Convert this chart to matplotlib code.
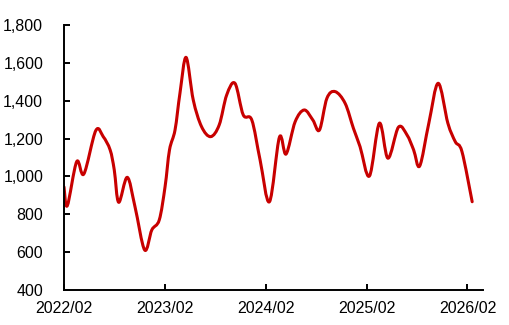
import numpy as np
import pandas as pd
import matplotlib
matplotlib.use("Agg")
import matplotlib.pyplot as plt
import matplotlib.dates as mdates
from matplotlib.path import Path
from matplotlib.patches import PathPatch

plt.rcParams['font.family'] = ['Liberation Sans', 'DejaVu Sans']

# values
dates = ["2022-02-01", "2022-02-13", "2022-03-19", "2022-04-14", "2022-05-27",
         "2022-06-23", "2022-07-18", "2022-08-02", "2022-08-18", "2022-09-18",
         "2022-10-16", "2022-11-20", "2022-12-16", "2023-01-12", "2023-02-02",
         "2023-02-18", "2023-03-10", "2023-03-28", "2023-04-19", "2023-05-15",
         "2023-06-14", "2023-07-17", "2023-08-17", "2023-09-13", "2023-10-13",
         "2023-11-12", "2023-12-13", "2024-01-12", "2024-02-15", "2024-03-22",
         "2024-04-15", "2024-05-18", "2024-06-20", "2024-07-21", "2024-08-14",
         "2024-09-10", "2024-10-10", "2024-11-15", "2024-12-15", "2025-01-08",
         "2025-02-11", "2025-03-19", "2025-04-19", "2025-05-27", "2025-06-27",
         "2025-07-21", "2025-08-12", "2025-09-14", "2025-10-18", "2025-11-22",
         "2025-12-19", "2026-01-12", "2026-02-18"]
values = [944, 845, 1078, 1013, 1242,
          1210, 1140, 1034, 863, 995,
          840, 611, 717, 770, 946,
          1140, 1245, 1441, 1629, 1404,
          1263, 1210, 1272, 1430, 1492,
          1325, 1298, 1087, 866, 1207,
          1118, 1289, 1351, 1298, 1245,
          1413, 1448, 1386, 1254, 1157,
          1002, 1281, 1096, 1260, 1219,
          1140, 1055, 1281, 1492, 1281,
          1183, 1131, 866]
tick_dates = ["2022-02-01", "2023-02-01", "2024-02-01", "2025-02-01", "2026-02-01"]
y_ticks = [400, 600, 800, 1000, 1200, 1400, 1600, 1800]


def smooth_path(x, y, t=0.5):
    # Catmull-Rom style bezier through the points (like a smoothed line)
    x = np.asarray(x, float)
    y = np.asarray(y, float)
    verts = [(x[0], y[0])]
    codes = [Path.MOVETO]
    n = len(x)
    for i in range(n - 1):
        i0 = max(i - 1, 0)
        i3 = min(i + 2, n - 1)
        c1 = (x[i] + (x[i + 1] - x[i0]) * t / 3, y[i] + (y[i + 1] - y[i0]) * t / 3)
        c2 = (x[i + 1] - (x[i3] - x[i]) * t / 3, y[i + 1] - (y[i3] - y[i]) * t / 3)
        verts += [c1, c2, (x[i + 1], y[i + 1])]
        codes += [Path.CURVE4] * 3
    return Path(verts, codes)


xd = mdates.date2num(pd.to_datetime(dates))

fig = plt.figure(figsize=(5.1, 3.25), dpi=100)
ax = fig.add_axes([0.1255, 0.108, 0.822, 0.815])

ax.add_patch(PathPatch(smooth_path(xd, values), facecolor='none',
                       edgecolor='#C80000', lw=2.2, capstyle='round', joinstyle='round'))

ax.set_xlim(mdates.date2num(pd.Timestamp("2022-02-01")),
            mdates.date2num(pd.Timestamp("2026-03-30")))
ax.set_ylim(400, 1800)
ax.set_yticks(y_ticks)
ax.set_yticklabels([f"{v:,}" for v in y_ticks])
ax.set_xticks(mdates.date2num(pd.to_datetime(tick_dates)))
ax.xaxis.set_major_formatter(mdates.DateFormatter("%Y/%m"))

for s in ['top', 'right']:
    ax.spines[s].set_visible(False)
for s in ['left', 'bottom']:
    ax.spines[s].set_linewidth(1.4)
ax.tick_params(direction='in', length=4, width=1.4, labelsize=11.5)
ax.tick_params(axis='y', pad=15)
ax.tick_params(axis='x', pad=8)

fig.savefig("out.png", dpi=100)
